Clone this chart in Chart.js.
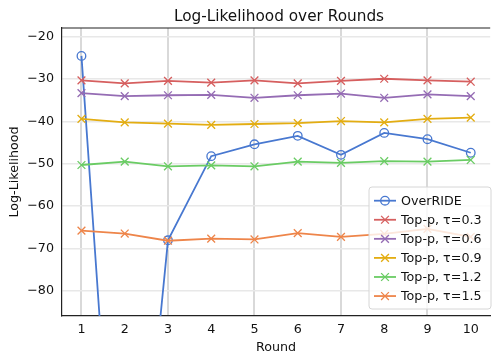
<!DOCTYPE html>
<html>
<head>
<meta charset="utf-8">
<script src="https://cdn.jsdelivr.net/npm/chart.js@4/dist/chart.umd.min.js"></script>
<style>
  html, body { margin: 0; padding: 0; background: #fff; }
  #wrap { width: 492px; height: 354px; overflow: hidden; position: relative; }
  canvas { display: block; }
</style>
</head>
<body>
<div id="wrap"><canvas id="c" width="497" height="354"></canvas></div>
<script>
// ---- data ----
const rounds = [1, 2, 3, 4, 5, 6, 7, 8, 9, 10];
const overrideVals = [-24.5, -172, -68.1, -48.2, -45.4, -43.4, -47.9, -42.7, -44.2, -47.4];
const topP03 = [-30.3, -31.0, -30.4, -30.8, -30.3, -31.0, -30.4, -29.9, -30.3, -30.6];
const topP06 = [-33.3, -34.0, -33.8, -33.7, -34.4, -33.8, -33.4, -34.4, -33.6, -34.0];
const topP09 = [-39.4, -40.2, -40.5, -40.8, -40.6, -40.4, -39.9, -40.2, -39.4, -39.1];
const topP12 = [-50.3, -49.5, -50.6, -50.4, -50.6, -49.5, -49.8, -49.4, -49.5, -49.1];
const topP15 = [-65.8, -66.5, -68.2, -67.7, -67.9, -66.4, -67.3, -66.6, -65.4, -67.3];
const seriesLabels = ['OverRIDE', 'Top-p, τ=0.3', 'Top-p, τ=0.6', 'Top-p, τ=0.9', 'Top-p, τ=1.2', 'Top-p, τ=1.5'];
const yTickValues = [-20, -30, -40, -50, -60, -70, -80];
const titleText = 'Log-Likelihood over Rounds';
const xTitle = 'Round';
const yTitle = 'Log-Likelihood';

const colors = ['#4878d0', '#d65f5f', '#956cb4', '#e3ad12', '#6acc64', '#ee854a'];
const styles = ['circle', 'crossRot', 'crossRot', 'crossRot', 'crossRot', 'crossRot'];
const allSeries = [overrideVals, topP03, topP06, topP09, topP12, topP15];
const FONT = "'DejaVu Sans', sans-serif";
const FS = 12.7;

const datasets = allSeries.map((vals, i) => ({
  label: seriesLabels[i],
  data: vals.map((v, j) => ({ x: rounds[j], y: v })),
  borderColor: colors[i],
  backgroundColor: colors[i],
  borderWidth: 1.8,
  pointStyle: styles[i],
  pointRadius: styles[i] === 'circle' ? 4.3 : 5.5,
  pointBorderWidth: 1.3,
  pointBackgroundColor: 'rgba(0,0,0,0)',
  pointBorderColor: colors[i],
  tension: 0,
  order: 6 - i
}));

const minus = v => (v < 0 ? '\u2212' + Math.abs(v) : String(v));

const extras = {
  id: 'extras',
  afterDraw(chart) {
    const { ctx, chartArea: a } = chart;
    ctx.save();
    // top spine
    ctx.strokeStyle = '#222';
    ctx.lineWidth = 1.2;
    ctx.beginPath();
    ctx.moveTo(a.left, a.top);
    ctx.lineTo(a.right, a.top);
    ctx.stroke();
    // title
    ctx.fillStyle = '#111';
    ctx.font = '15.3px ' + FONT;
    ctx.textAlign = 'center';
    ctx.textBaseline = 'alphabetic';
    ctx.fillText(titleText, 279, 21);
    // legend
    const bx = 369, by = 187, bw = 122, bh = 122, r = 3;
    ctx.beginPath();
    ctx.moveTo(bx + r, by);
    ctx.lineTo(bx + bw - r, by);
    ctx.quadraticCurveTo(bx + bw, by, bx + bw, by + r);
    ctx.lineTo(bx + bw, by + bh - r);
    ctx.quadraticCurveTo(bx + bw, by + bh, bx + bw - r, by + bh);
    ctx.lineTo(bx + r, by + bh);
    ctx.quadraticCurveTo(bx, by + bh, bx, by + bh - r);
    ctx.lineTo(bx, by + r);
    ctx.quadraticCurveTo(bx, by, bx + r, by);
    ctx.closePath();
    ctx.fillStyle = 'rgba(255,255,255,0.8)';
    ctx.fill();
    ctx.strokeStyle = '#d6d6d6';
    ctx.lineWidth = 1;
    ctx.stroke();
    chart.data.datasets.forEach((ds, i) => {
      const cy = 200.7 + i * 19.07;
      const x0 = 374, x1 = 396, mx = 385;
      ctx.strokeStyle = ds.borderColor;
      ctx.lineWidth = 1.8;
      ctx.beginPath();
      ctx.moveTo(x0, cy);
      ctx.lineTo(x1, cy);
      ctx.stroke();
      ctx.lineWidth = 1.3;
      ctx.beginPath();
      if (ds.pointStyle === 'circle') {
        ctx.arc(mx, cy, 4.3, 0, Math.PI * 2);
      } else {
        const d = 5.5 * Math.SQRT1_2;
        ctx.moveTo(mx - d, cy - d); ctx.lineTo(mx + d, cy + d);
        ctx.moveTo(mx - d, cy + d); ctx.lineTo(mx + d, cy - d);
      }
      ctx.stroke();
      ctx.fillStyle = '#111';
      ctx.font = FS + 'px ' + FONT;
      ctx.textAlign = 'left';
      ctx.textBaseline = 'middle';
      ctx.fillText(ds.label, 401, cy + 0.5);
    });
    ctx.restore();
  }
};

new Chart(document.getElementById('c'), {
  type: 'line',
  data: { datasets },
  plugins: [extras],
  options: {
    responsive: false,
    animation: false,
    devicePixelRatio: 1,
    layout: { padding: { top: 28, left: 0, right: 0, bottom: 0 } },
    plugins: { legend: { display: false }, tooltip: { enabled: false }, title: { display: false } },
    scales: {
      x: {
        type: 'linear',
        min: 0.55,
        max: 10.45,
        afterFit(s) { s.height = 38; },
        afterBuildTicks(s) { s.ticks = rounds.map(v => ({ value: v })); },
        ticks: { color: '#111', font: { family: FONT, size: FS }, padding: 6, autoSkip: false, maxRotation: 0, callback: v => String(v) },
        grid: {
          drawTicks: false,
          color: c => (c.tick && c.tick.value % 2 === 1 ? '#d9d9d9' : 'rgba(0,0,0,0)'),
          lineWidth: 2
        },
        border: { display: true, color: '#222', width: 1.2 },
        title: { display: true, text: xTitle, color: '#111', font: { family: FONT, size: FS, lineHeight: 1 }, padding: { top: 0, bottom: 0 } }
      },
      y: {
        type: 'linear',
        min: -86,
        max: -17.9,
        afterFit(s) { s.width = 62; },
        afterBuildTicks(s) { s.ticks = yTickValues.map(v => ({ value: v })); },
        ticks: { color: '#111', font: { family: FONT, size: FS }, padding: 8, callback: v => minus(v) },
        grid: { drawTicks: false, color: '#e8e8e8', lineWidth: 1.5 },
        border: { display: true, color: '#222', width: 1.2 },
        title: { display: true, text: yTitle, color: '#111', font: { family: FONT, size: FS, lineHeight: 1 }, padding: { top: 8, bottom: 0 } }
      }
    }
  }
});
</script>
</body>
</html>
